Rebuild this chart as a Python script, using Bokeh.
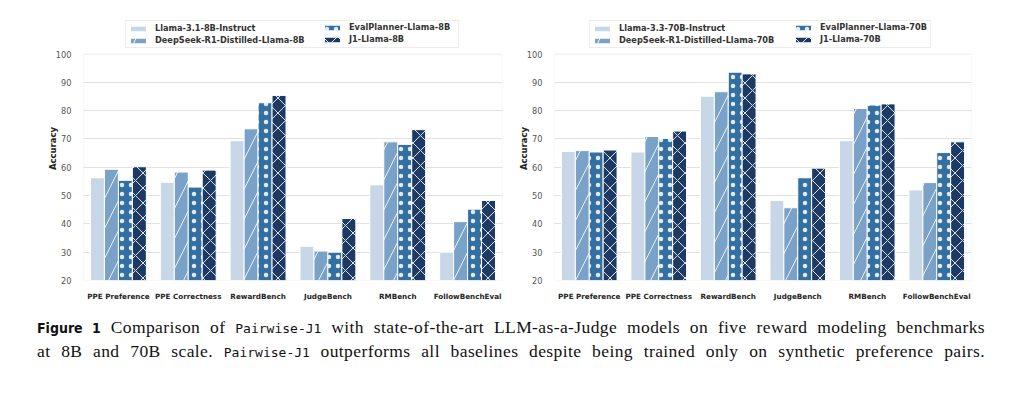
from bokeh.plotting import figure
from bokeh.models import Legend, LegendItem, ColumnDataSource, FactorRange, Div, Range1d, BoxAnnotation
from bokeh.transform import dodge
from bokeh.layouts import column, row
from bokeh.embed import file_html
from bokeh.resources import INLINE

categories = ["PPE Preference", "PPE Correctness", "RewardBench", "JudgeBench", "RMBench", "FollowBenchEval"]

models_8b = ["Llama-3.1-8B-Instruct", "DeepSeek-R1-Distilled-Llama-8B", "EvalPlanner-Llama-8B", "J1-Llama-8B"]
llama_8b = [56.3, 54.7, 69.4, 32.1, 53.8, 30.0]
deepseek_8b = [59.3, 58.3, 73.6, 30.4, 69.0, 40.8]
evalplanner_8b = [55.4, 53.0, 82.8, 30.0, 68.1, 45.2]
j1_8b = [60.2, 59.0, 85.4, 41.9, 73.3, 48.3]

models_70b = ["Llama-3.3-70B-Instruct", "DeepSeek-R1-Distilled-Llama-70B", "EvalPlanner-Llama-70B", "J1-Llama-70B"]
llama_70b = [65.6, 65.4, 85.1, 48.3, 69.4, 52.0]
deepseek_70b = [65.9, 70.9, 86.7, 45.7, 80.8, 54.6]
evalplanner_70b = [65.4, 70.2, 93.6, 56.3, 82.0, 65.2]
j1_70b = [66.1, 72.8, 93.0, 59.7, 82.4, 69.0]

y_ticks = [20, 30, 40, 50, 60, 70, 80, 90, 100]
y_min, y_max = 20, 100

colors = ["#c8d7e7", "#7aa2c9", "#336fa1", "#1c3a64"]
hatches = [None, "/", ".", "x"]
hatch_scales = [12, 30, 9, 15]
hatch_weights = [1, 1, 1, 1]
offsets = [-0.3, -0.1, 0.1, 0.3]

FONT = "DejaVu Sans"

# layout constants (pixels)
FIG_H = 303
TOP, BOTTOM = 16, 20
PLOT_PX = 229          # pixel height of the 20..100 band
FRAME_H = FIG_H - TOP - BOTTOM
Y_END = y_min + (y_max - y_min) * FRAME_H / PLOT_PX
LEG_Y = PLOT_PX + 3


def legend_style(**kw):
    base = dict(padding=2, margin=0, spacing=2, glyph_width=20, glyph_height=7,
                label_standoff=7, label_height=10, label_text_font=FONT,
                label_text_font_size="8.2px", label_text_font_style="bold",
                label_text_color="#333333")
    base.update(kw)
    return base


def make_chart(models, series, width, min_left, min_right, leg_a_x, leg_a_labelw, leg_b_x):
    p = figure(x_range=FactorRange(*categories, range_padding=0, factor_padding=0),
               y_range=Range1d(y_min, Y_END), width=width, height=FIG_H,
               output_backend="svg", toolbar_location=None,
               min_border_left=min_left, min_border_right=min_right,
               min_border_top=TOP, min_border_bottom=BOTTOM)
    data = {"cat": categories}
    for i, s in enumerate(series):
        data[f"s{i}"] = s
    src = ColumnDataSource(data)
    items = []
    for i, m in enumerate(models):
        kw = dict(x=dodge("cat", offsets[i], range=p.x_range), top=f"s{i}", bottom=y_min,
                  width=0.2, source=src, fill_color=colors[i], line_color="white",
                  line_width=1)
        if hatches[i]:
            kw.update(hatch_pattern=hatches[i], hatch_color="white",
                      hatch_scale=hatch_scales[i], hatch_weight=hatch_weights[i],
                      hatch_alpha=0.85)
        r = p.vbar(**kw)
        items.append(LegendItem(label=m, renderers=[r]))

    frame_box = BoxAnnotation(bottom=y_min, top=y_max, fill_alpha=0,
                              line_color="#cccccc", line_width=1.2, level="underlay")
    p.add_layout(frame_box)

    leg_a = Legend(items=items[:2], location=(leg_a_x, LEG_Y),
                   border_line_color="#d9d9d9", border_line_width=1,
                   background_fill_color="white", label_width=leg_a_labelw,
                   **legend_style())
    leg_b = Legend(items=items[2:], location=(leg_b_x, LEG_Y + 4),
                   border_line_color=None, background_fill_alpha=0,
                   **legend_style())
    p.add_layout(leg_a, "center")
    p.add_layout(leg_b, "center")

    p.yaxis.ticker = y_ticks
    p.yaxis.bounds = (y_min, y_max)
    p.yaxis.axis_label = "Accuracy"
    p.yaxis.axis_label_text_font = FONT
    p.yaxis.axis_label_text_font_size = "8.5px"
    p.yaxis.axis_label_text_font_style = "bold"
    p.yaxis.axis_label_text_color = "#222222"
    p.yaxis.axis_label_standoff = -5
    p.axis.axis_line_color = None
    p.axis.major_tick_line_color = None
    p.axis.minor_tick_line_color = None
    p.yaxis.major_label_text_font = FONT
    p.yaxis.major_label_text_font_size = "8.2px"
    p.yaxis.major_label_text_color = "#555555"
    p.yaxis.major_label_standoff = 6
    p.xaxis.major_label_text_font = FONT
    p.xaxis.major_label_text_font_size = "7.2px"
    p.xaxis.major_label_text_font_style = "bold"
    p.xaxis.major_label_text_color = "#262626"
    p.xaxis.major_label_standoff = 5

    p.grid.grid_line_color = "#b5b5b5"
    p.grid.grid_line_dash = "1 1"
    p.grid.grid_line_width = 0.8
    p.xgrid.bounds = (y_min, y_max)
    p.ygrid.ticker = y_ticks[1:-1]
    p.outline_line_color = None
    p.background_fill_color = "white"
    p.border_fill_color = "white"
    return p


p1 = make_chart(models_8b, [llama_8b, deepseek_8b, evalplanner_8b, j1_8b], 512, 83, 10,
                42, 301, 239)
p2 = make_chart(models_70b, [llama_70b, deepseek_70b, evalplanner_70b, j1_70b], 504, 42, 45,
                35, 309, 239)

mono = "font-family:'DejaVu Sans Mono','Liberation Mono',monospace;font-size:13px;letter-spacing:0;"
caption_html = (
    "<div style=\"width:948px;margin-left:32px;padding-top:8px;"
    "font-family:'Liberation Serif',serif;font-size:17.5px;letter-spacing:0.4px;line-height:22px;color:#111;"
    "text-align:justify;text-align-last:justify;white-space:nowrap;\">"
    "<b style=\"font-family:'Liberation Sans Narrow','DejaVu Sans Condensed',sans-serif;font-size:14px;letter-spacing:0;\">Figure&nbsp;1</b>"
    " Comparison of <span style=\"" + mono + "\">Pairwise-J1</span> with state-of-the-art LLM-as-a-Judge models on five reward modeling benchmarks<br>"
    "at 8B and 70B scale. <span style=\"" + mono + "\">Pairwise-J1</span> outperforms all baselines despite being trained only on synthetic preference pairs."
    "</div>"
)
cap = Div(text=caption_html, width=1016, height=80)

layout = column(row(p1, p2), cap)

open("out.html", "w").write(file_html(layout, INLINE))
